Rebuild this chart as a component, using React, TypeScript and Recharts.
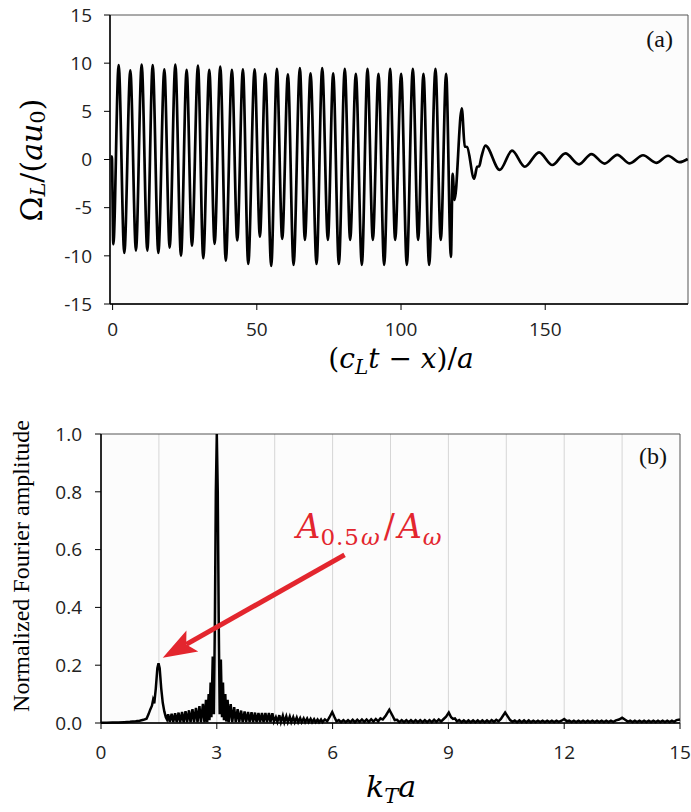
import React from 'react';
import { LineChart, Line, XAxis, YAxis, ReferenceArea, ReferenceLine, CartesianGrid } from 'recharts';

// ---- Panel (a): time signal, extrema ----
const waveBurst: [number, number][] = [
  [-0.6, 0.3], [-0.25, 0.3], [0.25, -8.8], [2.1, 9.8], [4.06, -9.7], [6.14, 9.25], [8.1, -9.45],
  [10.07, 9.85], [12.04, -9.45], [13.9, 9.8], [15.86, -9.7], [17.94, 9.35], [19.78, -9.15],
  [21.75, 9.85], [23.71, -10.0], [25.67, 9.3], [27.52, -8.95], [29.6, 9.75], [31.44, -10.25],
  [33.52, 9.3], [35.37, -8.75], [37.33, 9.65], [39.25, -10.5], [41.37, 9.3], [43.22, -8.4],
  [45.18, 9.35], [47.03, -10.85], [49.23, 9.35], [51.07, -8.0], [52.92, 8.9], [55.0, -11.05],
  [56.96, 9.4], [58.81, -8.25], [60.78, 8.85], [62.74, -10.95], [64.93, 9.5], [66.67, -8.35],
  [68.63, 8.95], [70.71, -10.85], [72.67, 9.5], [74.64, -8.35], [76.48, 8.95], [78.45, -10.85],
  [80.5, 9.4], [82.37, -8.35], [84.34, 8.9], [86.42, -10.95], [88.38, 9.4], [90.23, -8.35],
  [92.19, 8.9], [94.15, -10.95], [96.23, 9.4], [97.97, -8.35], [100.05, 8.9], [102.01, -10.95],
  [104.09, 9.4], [105.94, -8.35], [107.78, 8.9], [109.75, -10.95], [111.94, 9.4], [113.79, -8.35],
  [115.64, 8.9], [117.3, -10.1],
];
const waveTail: [number, number][] = [
  [117.9, -1.5], [118.55, -4.2], [121.07, 5.3], [122.1, 1.35], [122.9, 1.3], [125.34, -2.0],
  [126.4, -0.75], [127.1, -0.7], [127.9, 0.3], [129.27, 1.45], [134.23, -1.08], [138.5, 0.92],
  [142.9, -0.75], [147.86, 0.74], [152.48, -0.57], [156.99, 0.64], [161.72, -0.5], [166.0, 0.56],
  [170.6, -0.42], [175.0, 0.49], [179.3, -0.4], [183.9, 0.44], [188.5, -0.35], [192.6, 0.39],
  [196.6, -0.28], [199.4, 0.05],
];
const topXTicks = [0, 50, 100, 150];
const topYTicks = [-15, -10, -5, 0, 5, 10, 15];

// ---- Panel (b): normalized Fourier amplitude ----
const fftLow: [number, number][] = [
  [0, 0.001], [0.15, 0.001], [0.3, 0.002], [0.45, 0.002], [0.6, 0.003], [0.75, 0.004], [0.9, 0.006],
  [1.0, 0.008], [1.1, 0.011], [1.18, 0.015], [1.23, 0.03], [1.28, 0.048], [1.32, 0.06], [1.35, 0.08],
  [1.38, 0.068], [1.42, 0.12], [1.46, 0.19], [1.49, 0.207], [1.52, 0.19], [1.56, 0.12], [1.6, 0.07],
  [1.64, 0.04], [1.68, 0.02], [1.71, 0.012],
];
const fftComb: [number, number][] = [
  [1.74, 0.03], [1.78, 0.004], [1.83, 0.032], [1.87, 0.003], [1.92, 0.034], [1.96, 0.003],
  [2.01, 0.036], [2.05, 0.002], [2.1, 0.038], [2.14, 0.002], [2.19, 0.041], [2.23, 0.002],
  [2.28, 0.044], [2.32, 0.002], [2.37, 0.048], [2.41, 0.002], [2.46, 0.052], [2.5, 0.002],
  [2.55, 0.058], [2.59, 0.002], [2.64, 0.066], [2.68, 0.002], [2.72, 0.08], [2.75, 0.003],
  [2.79, 0.1], [2.81, 0.01], [2.84, 0.14], [2.86, 0.02], [2.895, 0.23], [2.925, 0.03],
];
const fftMain: [number, number][] = [
  [2.95, 0.35], [2.975, 0.8], [3.0, 1.0], [3.025, 0.8], [3.05, 0.35], [3.075, 0.03], [3.105, 0.22],
  [3.135, 0.02], [3.16, 0.14], [3.185, 0.01], [3.22, 0.1], [3.245, 0.005],
];
const fftHigh: [number, number][] = [
  [3.28, 0.08], [3.31, 0.003], [3.36, 0.065], [3.4, 0.003], [3.45, 0.055], [3.49, 0.003],
  [3.54, 0.048], [3.58, 0.003], [3.63, 0.043], [3.67, 0.003], [3.72, 0.04], [3.76, 0.003],
  [3.81, 0.038], [3.85, 0.003], [3.9, 0.037], [3.94, 0.003], [3.99, 0.036], [4.03, 0.003],
  [4.08, 0.035], [4.12, 0.003], [4.17, 0.035], [4.21, 0.003], [4.26, 0.035], [4.3, 0.003],
  [4.35, 0.035], [4.39, 0.003], [4.44, 0.034], [4.48, 0.005], [4.53, 0.02], [4.57, 0.004],
  [4.62, 0.027], [4.66, 0.003], [4.71, 0.025], [4.75, 0.003], [4.8, 0.023], [4.84, 0.003],
  [4.89, 0.022], [4.93, 0.003], [4.98, 0.02], [5.02, 0.003], [5.07, 0.019], [5.11, 0.003],
  [5.16, 0.017], [5.2, 0.003], [5.25, 0.016], [5.29, 0.003], [5.34, 0.015], [5.38, 0.003],
  [5.43, 0.014], [5.47, 0.003], [5.52, 0.013], [5.56, 0.003], [5.61, 0.012], [5.65, 0.003],
  [5.7, 0.012], [5.74, 0.003], [5.8, 0.012], [5.86, 0.006], [5.92, 0.02], [5.99, 0.038],
  [6.05, 0.02], [6.1, 0.006],
];
const fftTail: [number, number][] = [
  [6.16, 0.01], [6.22, 0.003], [6.28, 0.01], [6.34, 0.003], [6.4, 0.01], [6.46, 0.003], [6.52, 0.011],
  [6.58, 0.003], [6.64, 0.011], [6.7, 0.004], [6.76, 0.012], [6.82, 0.004], [6.88, 0.012], [6.94, 0.004],
  [7.0, 0.013], [7.06, 0.005], [7.12, 0.014], [7.18, 0.006], [7.24, 0.016], [7.3, 0.012], [7.38, 0.026],
  [7.47, 0.046], [7.55, 0.026], [7.61, 0.01], [7.67, 0.011], [7.73, 0.003], [7.79, 0.01], [7.85, 0.003],
  [7.91, 0.01], [7.97, 0.003], [8.03, 0.01], [8.09, 0.003], [8.15, 0.01], [8.21, 0.003], [8.27, 0.01],
  [8.33, 0.003], [8.39, 0.01], [8.45, 0.003], [8.51, 0.01], [8.57, 0.003], [8.63, 0.011], [8.69, 0.004],
  [8.75, 0.012], [8.81, 0.005], [8.87, 0.013], [8.94, 0.022], [9.01, 0.036], [9.07, 0.02], [9.12, 0.014],
  [9.17, 0.016], [9.22, 0.006], [9.28, 0.01], [9.34, 0.003], [9.4, 0.009], [9.46, 0.003], [9.52, 0.009],
  [9.58, 0.003], [9.64, 0.009], [9.7, 0.003], [9.76, 0.009], [9.82, 0.003], [9.88, 0.009], [9.94, 0.003],
  [10.0, 0.009], [10.06, 0.003], [10.12, 0.01], [10.18, 0.004], [10.24, 0.011], [10.3, 0.006],
  [10.36, 0.014], [10.41, 0.024], [10.47, 0.036], [10.54, 0.022], [10.6, 0.01], [10.66, 0.004],
  [10.72, 0.009], [10.78, 0.003], [10.84, 0.009], [10.9, 0.003], [10.96, 0.009], [11.02, 0.003],
  [11.08, 0.009], [11.14, 0.003], [11.2, 0.008], [11.26, 0.003], [11.32, 0.008], [11.38, 0.003],
  [11.44, 0.008], [11.5, 0.003], [11.56, 0.008], [11.62, 0.003], [11.68, 0.008], [11.74, 0.003],
  [11.8, 0.008], [11.86, 0.004], [11.93, 0.008], [12.0, 0.014], [12.07, 0.006], [12.13, 0.008],
  [12.19, 0.003], [12.25, 0.008], [12.31, 0.003], [12.37, 0.008], [12.43, 0.003], [12.49, 0.008],
  [12.55, 0.003], [12.61, 0.008], [12.67, 0.003], [12.73, 0.008], [12.79, 0.003], [12.85, 0.008],
  [12.91, 0.003], [12.97, 0.008], [13.03, 0.003], [13.09, 0.008], [13.15, 0.003], [13.21, 0.008],
  [13.27, 0.004], [13.34, 0.009], [13.42, 0.012], [13.5, 0.018], [13.58, 0.011], [13.65, 0.005],
  [13.71, 0.008], [13.77, 0.003], [13.83, 0.008], [13.89, 0.003], [13.95, 0.008], [14.01, 0.003],
  [14.07, 0.008], [14.13, 0.003], [14.19, 0.008], [14.25, 0.003], [14.31, 0.008], [14.37, 0.003],
  [14.43, 0.008], [14.49, 0.003], [14.55, 0.008], [14.61, 0.003], [14.67, 0.008], [14.73, 0.003],
  [14.79, 0.008], [14.85, 0.004], [14.91, 0.01], [15.0, 0.012],
];
const fftXTicks = [0, 3, 6, 9, 12, 15];
const fftYTicks = [0, 0.2, 0.4, 0.6, 0.8, 1.0];
const fftGridK = [1.5, 3, 4.5, 6, 7.5, 9, 10.5, 12, 13.5];
const arrowTail = { k: 6.31, amp: 0.582 };
const arrowTip = { k: 1.6, amp: 0.226 };

const topData = [...waveBurst, ...waveTail].map(([x, y]) => ({ x, y }));
const fftData = [...fftLow, ...fftComb, ...fftMain, ...fftHigh, ...fftTail].map(([k, a]) => ({ k, a }));

const RED = '#e3262e';
const TICK_FONT = { fontFamily: 'Open Sans, sans-serif', fontSize: 19, fill: '#222' };
const MATH = 'DejaVu Serif, serif';
const TOP_X_DOMAIN: [number, number] = [-0.9, 199.5];
const BOTTOM_OFFSET = 400;

const TopYLabel = () => {
  const cx = 31, cy = 160;
  return (
    <text x={cx} y={cy} transform={`rotate(-90 ${cx} ${cy})`} textAnchor="middle" dominantBaseline="central"
      fontFamily={MATH} fontSize={30} fill="#000">
      <tspan>Ω</tspan>
      <tspan fontStyle="italic" fontSize={21} dy={7}>L</tspan>
      <tspan dy={-7}>/(</tspan>
      <tspan fontStyle="italic">au</tspan>
      <tspan fontSize={21} dy={7}>0</tspan>
      <tspan dy={-7}>)</tspan>
    </text>
  );
};

const TopXLabel = () => (
  <text x={401} y={368} textAnchor="middle" fontFamily={MATH} fontSize={28} fill="#000">
    <tspan>(</tspan>
    <tspan fontStyle="italic">c</tspan>
    <tspan fontStyle="italic" fontSize={20} dy={6}>L</tspan>
    <tspan fontStyle="italic" dy={-6}>t</tspan>
    <tspan> − </tspan>
    <tspan fontStyle="italic">x</tspan>
    <tspan>)/</tspan>
    <tspan fontStyle="italic">a</tspan>
  </text>
);

const BottomYLabel = () => {
  const cx = 21, cy = 566 - BOTTOM_OFFSET;
  return (
    <text x={cx} y={cy} transform={`rotate(-90 ${cx} ${cy})`} textAnchor="middle" dominantBaseline="central"
      fontFamily="Liberation Serif, serif" fontSize={24} fill="#000">
      Normalized Fourier amplitude
    </text>
  );
};

const BottomXLabel = () => (
  <text x={391} y={797 - BOTTOM_OFFSET} textAnchor="middle" fontFamily={MATH} fontSize={30} fill="#000">
    <tspan fontStyle="italic">k</tspan>
    <tspan fontStyle="italic" fontSize={21} dy={6}>T</tspan>
    <tspan fontStyle="italic" dy={-6}>a</tspan>
  </text>
);

const Arrow = (props: any) => {
  const { x1, y1, x2, y2 } = props;
  const dx = x2 - x1, dy = y2 - y1;
  const len = Math.hypot(dx, dy) || 1;
  const ux = dx / len, uy = dy / len;
  const nx = -uy, ny = ux;
  const L = 34, W = 12, notch = 27;
  const bx = x2 - ux * L, by = y2 - uy * L;
  const sx = x2 - ux * notch, sy = y2 - uy * notch;
  return (
    <g>
      <line x1={x1} y1={y1} x2={sx} y2={sy} stroke={RED} strokeWidth={5} />
      <polygon
        points={`${x2},${y2} ${bx + nx * W},${by + ny * W} ${sx},${sy} ${bx - nx * W},${by - ny * W}`}
        fill={RED}
      />
      <text x={x1 - 48} y={y1 - 17} fill={RED} fontFamily={MATH} fontSize={33} fontStyle="italic">
        <tspan>A</tspan>
        <tspan fontSize={23} fontStyle="normal" dy={7} letterSpacing={1}>0.5</tspan>
        <tspan fontSize={23} dx={1}>ω</tspan>
        <tspan fontStyle="normal" dy={-7} dx={4}>/</tspan>
        <tspan dx={3}>A</tspan>
        <tspan fontSize={23} dy={7} dx={1}>ω</tspan>
      </text>
    </g>
  );
};

export default function App() {
  return (
    <div style={{ position: 'absolute', left: 0, top: 0, width: 691, height: 812, background: '#fff' }}>
      <div style={{ position: 'absolute', left: 0, top: 0 }}>
        <LineChart width={691} height={400} data={topData} margin={{ top: 15, right: 3, bottom: 0, left: 0 }}>
          <CartesianGrid horizontal={false} vertical={false} fill="#fcfcfc" />
          <XAxis dataKey="x" type="number" domain={TOP_X_DOMAIN} ticks={topXTicks} interval={0}
            allowDataOverflow height={96} tickSize={6} tickMargin={13}
            axisLine={{ stroke: '#000', strokeWidth: 1.5 }} tickLine={{ stroke: '#000' }} tick={TICK_FONT}
            label={{ content: TopXLabel } as any} />
          <YAxis type="number" domain={[-15, 15]} ticks={topYTicks} interval={0} width={110}
            tickSize={6} tickMargin={12}
            axisLine={{ stroke: '#000', strokeWidth: 1.5 }} tickLine={{ stroke: '#000' }} tick={TICK_FONT}
            label={{ content: TopYLabel } as any} />
          <ReferenceArea x1={TOP_X_DOMAIN[0]} x2={TOP_X_DOMAIN[1]} y1={-15} y2={15} fill="none"
            stroke="#555" strokeWidth={1}
            label={{ value: '(a)', position: 'insideTopRight', offset: 15, fontFamily: 'Liberation Serif, serif', fontSize: 24, fill: '#111' } as any} />
          <Line type="monotone" dataKey="y" stroke="#000" strokeWidth={2.7} dot={false} isAnimationActive={false} />
        </LineChart>
      </div>
      <div style={{ position: 'absolute', left: 0, top: BOTTOM_OFFSET }}>
        <LineChart width={691} height={412} data={fftData} margin={{ top: 34, right: 11, bottom: 0, left: 0 }}>
          <CartesianGrid horizontal={false} vertical={true} verticalValues={fftGridK as any} stroke="#d6d6d6" fill="#fcfcfc" />
          <XAxis dataKey="k" type="number" domain={[0, 15]} ticks={fftXTicks} interval={0}
            height={89} tickSize={6} tickMargin={17}
            axisLine={{ stroke: '#000', strokeWidth: 1.5 }} tickLine={{ stroke: '#000' }} tick={TICK_FONT}
            label={{ content: BottomXLabel } as any} />
          <YAxis type="number" domain={[0, 1]} ticks={fftYTicks} interval={0} width={101}
            tickSize={6} tickMargin={13} tickFormatter={(v: number) => v.toFixed(1)}
            axisLine={{ stroke: '#000', strokeWidth: 1.5 }} tickLine={{ stroke: '#000' }} tick={TICK_FONT}
            label={{ content: BottomYLabel } as any} />
          <ReferenceArea x1={0} x2={15} y1={0} y2={1} fill="none" stroke="#555" strokeWidth={1}
            label={{ value: '(b)', position: 'insideTopRight', offset: 13, fontFamily: 'Liberation Serif, serif', fontSize: 24, fill: '#111' } as any} />
          <Line type="linear" dataKey="a" stroke="#000" strokeWidth={2.5} dot={false} isAnimationActive={false} />
          <ReferenceLine segment={[{ x: arrowTail.k, y: arrowTail.amp }, { x: arrowTip.k, y: arrowTip.amp }]}
            shape={Arrow as any} />
        </LineChart>
      </div>
    </div>
  );
}
